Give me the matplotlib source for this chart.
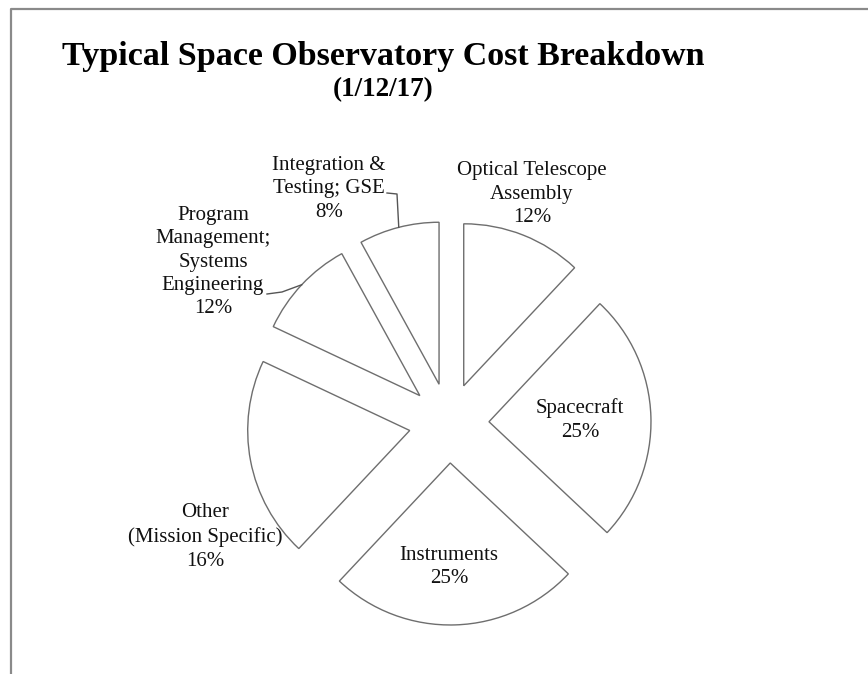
import math
import matplotlib.pyplot as plt

plt.rcParams['font.family'] = ['Liberation Serif', 'DejaVu Serif']

# slices clockwise from 12 o'clock
categories = ["Optical Telescope\nAssembly", "Spacecraft", "Instruments",
              "Other\n(Mission Specific)",
              "Program\nManagement;\nSystems\nEngineering",
              "Integration &\nTesting; GSE"]
shares = [12, 25, 25, 20, 10, 8]          # slice sizes as drawn
pct_labels = ["12%", "25%", "25%", "16%", "12%", "8%"]  # as printed

# layout (pixels from top-left)
W, H = 868, 674
label_pos = [(532, 194), (580, 420), (449, 567), (205, 537), (213, 262), (329, 189)]
leader_start = {5: [(387, 193), (397, 194)], 4: [(267, 294), (282, 292)]}

fig = plt.figure(figsize=(W / 100, H / 100), dpi=100)
ax = fig.add_axes([0, 0, 1, 1])

wedges, _ = ax.pie(shares, startangle=90, counterclock=False, radius=162,
                   center=(449, H - 423), explode=[40] * len(shares),
                   wedgeprops=dict(facecolor='white', edgecolor='#6e6e6e', linewidth=1.0))
ax.set_xlim(0, W)
ax.set_ylim(0, H)
ax.set_aspect('auto')
ax.axis('off')

for i, (cat, pct) in enumerate(zip(categories, pct_labels)):
    x, y = label_pos[i]
    ax.text(x, H - y, cat + "\n" + pct, ha='center', va='center',
            fontsize=15, linespacing=1.32, color='#111111')

# leader lines to the middle of the arc
for i, pts in leader_start.items():
    w = wedges[i]
    tm = math.radians(0.5 * (w.theta1 + w.theta2))
    cx, cy = w.center
    ex, ey = cx + w.r * math.cos(tm), cy + w.r * math.sin(tm)
    xs = [p[0] for p in pts] + [ex]
    ys = [H - p[1] for p in pts] + [ey]
    ax.plot(xs, ys, color='#555555', lw=1.0)

fig.text(383 / W, 1 - 65 / H, "Typical Space Observatory Cost Breakdown",
         ha='center', va='baseline', fontsize=24.5, fontweight='bold')
fig.text(383 / W, 1 - 90 / H, "(1/12/17)", ha='center', va='center',
         fontsize=19.5, fontweight='bold')

# frame edge of the slide
ax.plot([11, 11, W], [0, H - 9, H - 9], color='#8a8a8a', lw=1.6, clip_on=False)

fig.savefig('out.png', dpi=100)
